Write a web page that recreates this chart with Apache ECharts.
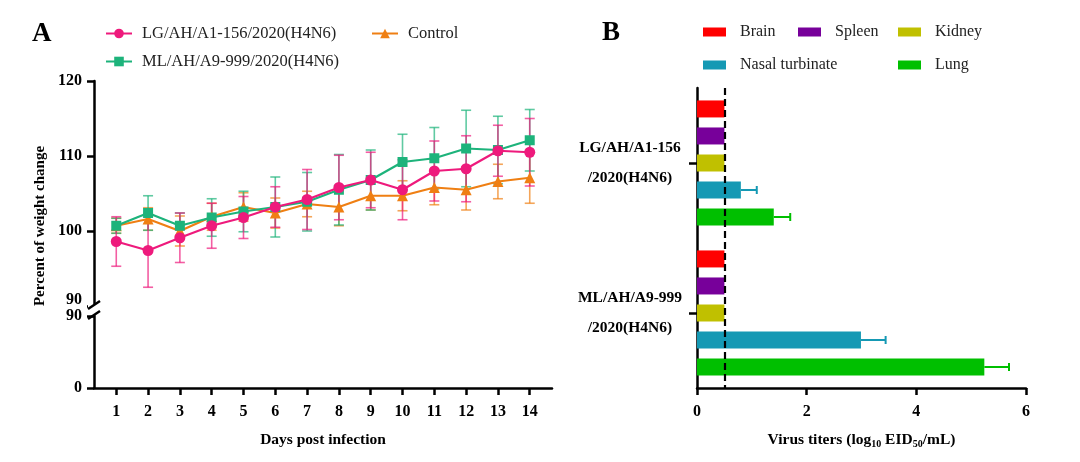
<!DOCTYPE html>
<html>
<head>
<meta charset="utf-8">
<script src="https://cdn.jsdelivr.net/npm/echarts@6/dist/echarts.min.js"></script>
<style>html,body{margin:0;padding:0;background:#fff;}#c{width:1080px;height:462px;}</style>
</head>
<body>
<div id="c"></div>
<script>
// ---- Panel A data ----
const days = [1,2,3,4,5,6,7,8,9,10,11,12,13,14];
const lgMean = [98.6, 97.4, 99.1, 100.7, 101.8, 103.2, 104.2, 105.8, 106.8, 105.5, 108.0, 108.3, 110.7, 110.5];
const lgSd   = [3.3, 4.9, 3.3, 3.0, 2.8, 2.7, 4.0, 4.3, 3.7, 4.0, 4.0, 4.4, 3.4, 4.5];
const mlMean = [100.7, 102.4, 100.7, 101.8, 102.6, 103.2, 103.9, 105.5, 106.8, 109.2, 109.7, 111.0, 110.8, 112.1];
const mlSd   = [1.0, 2.3, 1.7, 2.5, 2.7, 4.0, 3.9, 4.7, 4.0, 3.7, 4.1, 5.1, 4.5, 4.1];
const ctrlMean = [100.7, 101.6, 100.0, 101.9, 103.2, 102.4, 103.6, 103.2, 104.7, 104.7, 105.8, 105.5, 106.6, 107.1];
const ctrlSd   = [1.0, 1.5, 2.0, 1.8, 1.9, 2.0, 1.7, 2.5, 1.9, 2.0, 2.3, 2.7, 2.3, 3.4];
const seriesNamesA = ['LG/AH/A1-156/2020(H4N6)', 'ML/AH/A9-999/2020(H4N6)', 'Control'];
const upperTicks = [90, 100, 110, 120];
const lowerTicks = [0, 90];

// ---- Panel B data ----
const strains = ['LG/AH/A1-156\n/2020(H4N6)', 'ML/AH/A9-999\n/2020(H4N6)'];
const tissues = ['Brain', 'Spleen', 'Kidney', 'Nasal turbinate', 'Lung'];
const brainTiter  = [0.5, 0.5];
const spleenTiter = [0.5, 0.5];
const kidneyTiter = [0.5, 0.5];
const nasalTiter  = [0.8, 2.99];
const lungTiter   = [1.4, 5.24];
const nasalSd = [0.29, 0.45];
const lungSd  = [0.30, 0.45];
const detectionLimit = 0.5;

const FONT = 'Liberation Serif';
const cPink = '#ee1a7c', cGreen = '#1db37b', cOrange = '#ef7f13';
const tissueColors = ['#ff0000', '#77009a', '#c0c000', '#1599b4', '#00bf00'];

const chart = echarts.init(document.getElementById('c'), null, {renderer: 'canvas'});

function errA(color) {
  return function (params, api) {
    const x = api.value(0), m = api.value(1), s = api.value(2);
    const top = api.coord([x, m + s]);
    const bot = api.coord([x, m - s]);
    const st = {stroke: color, lineWidth: 1.6, opacity: 0.7};
    const hw = 5;
    return {type: 'group', children: [
      {type: 'line', shape: {x1: top[0], y1: top[1], x2: bot[0], y2: bot[1]}, style: st},
      {type: 'line', shape: {x1: top[0]-hw, y1: top[1], x2: top[0]+hw, y2: top[1]}, style: st},
      {type: 'line', shape: {x1: bot[0]-hw, y1: bot[1], x2: bot[0]+hw, y2: bot[1]}, style: st}
    ]};
  };
}
function errB(color, slot) {
  return function (params, api) {
    const v = api.value(0), s = api.value(1), cat = api.value(2);
    const p1 = api.coord([v, cat]);
    const p2 = api.coord([v + s, cat]);
    const y = p1[1] + (slot - 2) * 27;
    const st = {stroke: color, lineWidth: 2};
    return {type: 'group', children: [
      {type: 'line', shape: {x1: p1[0], y1: y, x2: p2[0], y2: y}, style: st},
      {type: 'line', shape: {x1: p2[0], y1: y-4, x2: p2[0], y2: y+4}, style: st}
    ]};
  };
}

const axisLineStyle = {color: '#000', width: 2.5};
const labelBold = {fontFamily: FONT, fontWeight: 'bold', fontSize: 16, color: '#000'};
const legA = {fontFamily: FONT, fontSize: 16.5, color: '#222', padding: [0, 0, 0, 5]};
const legB = {fontFamily: FONT, fontSize: 16, color: '#222', padding: [0, 0, 0, 9]};

const option = {
  animation: false,
  backgroundColor: '#fff',
  grid: [
    {left: 94, width: 458, top: 81, height: 225},
    {left: 94, width: 458, top: 316, height: 72},
    {left: 697, width: 329, top: 88, height: 300}
  ],
  xAxis: [
    {gridIndex: 0, type: 'value', min: 0.3, max: 14.7, show: false},
    {gridIndex: 1, type: 'value', min: 0.3, max: 14.7,
      axisLine: {show: true, lineStyle: axisLineStyle, onZero: false},
      axisTick: {show: true, customValues: days, length: 7, lineStyle: {width: 2.5, color: '#000'}},
      axisLabel: Object.assign({customValues: days, margin: 16}, labelBold),
      splitLine: {show: false},
      name: 'Days post infection', nameLocation: 'middle', nameGap: 44,
      nameTextStyle: {fontFamily: FONT, fontWeight: 'bold', fontSize: 15.5, color: '#000'}},
    {gridIndex: 2, type: 'value', min: 0, max: 6, interval: 2,
      axisLine: {show: true, lineStyle: axisLineStyle, onZero: false},
      axisTick: {show: true, length: 7, lineStyle: {width: 2.5, color: '#000'}},
      axisLabel: Object.assign({margin: 16}, labelBold),
      splitLine: {show: false},
      name: 'Virus titers (log{sub|10} EID{sub|50}/mL)', nameLocation: 'middle', nameGap: 42,
      nameTextStyle: {fontFamily: FONT, fontWeight: 'bold', fontSize: 15.5, color: '#000',
        rich: {sub: {fontFamily: FONT, fontWeight: 'bold', fontSize: 10, color: '#000', padding: [9, 0, 0, 0]}}}}
  ],
  yAxis: [
    {gridIndex: 0, type: 'value', min: 90, max: 120, interval: 10,
      axisLine: {show: true, lineStyle: axisLineStyle},
      axisTick: {show: true, length: 7, lineStyle: {width: 2.5, color: '#000'}},
      axisLabel: Object.assign({margin: 12, customValues: upperTicks,
        formatter: v => v === 90 ? '{u|90}' : String(v),
        rich: {u: {fontFamily: FONT, fontWeight: 'bold', fontSize: 16, color: '#000', padding: [0, 0, 12, 0]}}}, labelBold),
      splitLine: {show: false}},
    {gridIndex: 1, type: 'value', min: 0, max: 90, interval: 90,
      axisLine: {show: true, lineStyle: axisLineStyle},
      axisTick: {show: true, length: 7, lineStyle: {width: 2.5, color: '#000'}},
      axisLabel: Object.assign({margin: 12, customValues: lowerTicks}, labelBold),
      splitLine: {show: false}},
    {gridIndex: 2, type: 'category', data: strains, inverse: true,
      axisLine: {show: true, lineStyle: axisLineStyle},
      axisTick: {show: true, alignWithLabel: true, length: 8, lineStyle: {width: 2.5, color: '#000'}},
      axisLabel: {fontFamily: FONT, fontWeight: 'bold', fontSize: 15.5, color: '#000',
        align: 'center', margin: 67, lineHeight: 30},
      splitLine: {show: false}}
  ],
  legend: [
    {left: 100, top: 20, data: [seriesNamesA[0]], itemWidth: 26, itemHeight: 12, textStyle: legA},
    {left: 366, top: 20, data: [seriesNamesA[2]], itemWidth: 26, itemHeight: 12, textStyle: legA},
    {left: 100, top: 48, data: [seriesNamesA[1]], itemWidth: 26, itemHeight: 12, textStyle: legA},
    {left: 698, top: 19, data: [tissues[0]], icon: 'rect', itemWidth: 23, itemHeight: 9, textStyle: legB},
    {left: 793, top: 19, data: [tissues[1]], icon: 'rect', itemWidth: 23, itemHeight: 9, textStyle: legB},
    {left: 893, top: 19, data: [tissues[2]], icon: 'rect', itemWidth: 23, itemHeight: 9, textStyle: legB},
    {left: 698, top: 52, data: [tissues[3]], icon: 'rect', itemWidth: 23, itemHeight: 9, textStyle: legB},
    {left: 893, top: 52, data: [tissues[4]], icon: 'rect', itemWidth: 23, itemHeight: 9, textStyle: legB}
  ],
  graphic: [
    {type: 'text', left: 32, top: 21, style: {text: 'A', font: 'bold 27px "Liberation Serif"', fill: '#000'}},
    {type: 'text', left: 602, top: 20, style: {text: 'B', font: 'bold 27px "Liberation Serif"', fill: '#000'}},
    {type: 'text', x: 40, y: 226, rotation: Math.PI / 2,
      style: {text: 'Percent of weight change', font: 'bold 15px "Liberation Serif"', fill: '#000', align: 'center', verticalAlign: 'middle'}},
    {type: 'rect', shape: {x: 88, y: 304, width: 12, height: 11}, style: {fill: '#fff'}, z: 50},
    {type: 'line', shape: {x1: 88, y1: 309, x2: 100, y2: 301}, style: {stroke: '#000', lineWidth: 2.5}, z: 51},
    {type: 'line', shape: {x1: 88, y1: 319, x2: 100, y2: 311}, style: {stroke: '#000', lineWidth: 2.5}, z: 51}
  ],
  series: [
    {type: 'custom', name: 'errCtrl', xAxisIndex: 0, yAxisIndex: 0, renderItem: errA(cOrange), z: 1,
      data: days.map((d, i) => [d, ctrlMean[i], ctrlSd[i]]), encode: {x: 0, y: 1}},
    {type: 'custom', name: 'errML', xAxisIndex: 0, yAxisIndex: 0, renderItem: errA(cGreen), z: 1,
      data: days.map((d, i) => [d, mlMean[i], mlSd[i]]), encode: {x: 0, y: 1}},
    {type: 'custom', name: 'errLG', xAxisIndex: 0, yAxisIndex: 0, renderItem: errA(cPink), z: 1,
      data: days.map((d, i) => [d, lgMean[i], lgSd[i]]), encode: {x: 0, y: 1}},
    {type: 'line', name: seriesNamesA[2], xAxisIndex: 0, yAxisIndex: 0, z: 3,
      data: days.map((d, i) => [d, ctrlMean[i]]), color: cOrange,
      symbol: 'triangle', symbolSize: 11, lineStyle: {width: 2.2}, itemStyle: {color: cOrange}},
    {type: 'line', name: seriesNamesA[1], xAxisIndex: 0, yAxisIndex: 0, z: 4,
      data: days.map((d, i) => [d, mlMean[i]]), color: cGreen,
      symbol: 'rect', symbolSize: 10, lineStyle: {width: 2.2}, itemStyle: {color: cGreen}},
    {type: 'line', name: seriesNamesA[0], xAxisIndex: 0, yAxisIndex: 0, z: 5,
      data: days.map((d, i) => [d, lgMean[i]]), color: cPink,
      symbol: 'circle', symbolSize: 11, lineStyle: {width: 2.2}, itemStyle: {color: cPink}},
    {type: 'line', name: 'lowerDummy', xAxisIndex: 1, yAxisIndex: 1, data: [], silent: true},

    {type: 'bar', name: tissues[0], xAxisIndex: 2, yAxisIndex: 2, data: brainTiter, barWidth: 17, barGap: '59%', itemStyle: {color: tissueColors[0]},
      markLine: {silent: true, symbol: 'none', label: {show: false}, lineStyle: {color: '#000', type: [7, 4], width: 2.2}, data: [{xAxis: detectionLimit}], z: 10}},
    {type: 'bar', name: tissues[1], xAxisIndex: 2, yAxisIndex: 2, data: spleenTiter, barWidth: 17, barGap: '59%', itemStyle: {color: tissueColors[1]}},
    {type: 'bar', name: tissues[2], xAxisIndex: 2, yAxisIndex: 2, data: kidneyTiter, barWidth: 17, barGap: '59%', itemStyle: {color: tissueColors[2]}},
    {type: 'bar', name: tissues[3], xAxisIndex: 2, yAxisIndex: 2, data: nasalTiter, barWidth: 17, barGap: '59%', itemStyle: {color: tissueColors[3]}},
    {type: 'bar', name: tissues[4], xAxisIndex: 2, yAxisIndex: 2, data: lungTiter, barWidth: 17, barGap: '59%', itemStyle: {color: tissueColors[4]}},
    {type: 'custom', name: 'errNasal', xAxisIndex: 2, yAxisIndex: 2, renderItem: errB(tissueColors[3], 3),
      data: strains.map((s, i) => [nasalTiter[i], nasalSd[i], i]), encode: {x: 0, y: 2}},
    {type: 'custom', name: 'errLung', xAxisIndex: 2, yAxisIndex: 2, renderItem: errB(tissueColors[4], 4),
      data: strains.map((s, i) => [lungTiter[i], lungSd[i], i]), encode: {x: 0, y: 2}}
  ]
};
chart.setOption(option);
</script>
</body>
</html>
